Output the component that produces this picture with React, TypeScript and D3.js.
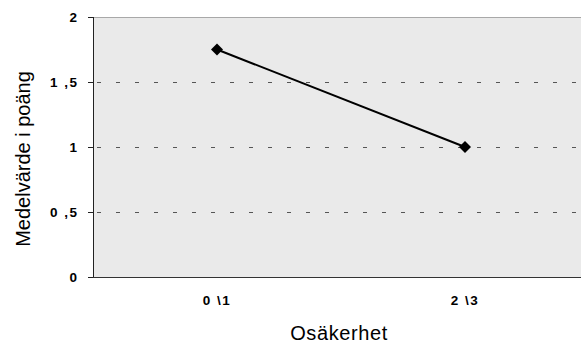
import React from "react";
import * as d3 from "d3";

const categories = ["0 \\1", "2 \\3"];
const values = [1.75, 1.0];
const yTicks = [0, 0.5, 1, 1.5, 2];
const yTickLabels = ["0", "0 ,5", "1", "1 ,5", "2"];

export default function App() {
  const W = 581, H = 347;
  const left = 93, right = 589, top = 17, bottom = 277;
  const x = d3.scaleBand<string>().domain(categories).range([left, right]);
  const y = d3.scaleLinear().domain([0, 2]).range([bottom, top]);
  const line = d3.line<number>()
    .x((_, i) => x(categories[i])! + x.bandwidth() / 2)
    .y((d) => y(d));
  const font = "'Liberation Sans', Arial, sans-serif";
  return (
    <svg width={W} height={H} style={{ position: "absolute", left: 0, top: 0 }}>
      <rect x={left} y={top} width={W - left} height={bottom - top} fill="#eaeaea" />
      <line x1={left} x2={W} y1={top + 0.5} y2={top + 0.5} stroke="#a8a8a8" />
      {yTicks.filter((t) => t > 0 && t < 2).map((t) => (
        <line key={t} x1={left + 4} x2={W} y1={Math.round(y(t)) + 0.5} y2={Math.round(y(t)) + 0.5}
          stroke="#555" strokeDasharray="4,15" />
      ))}
      <line x1={left + 0.5} x2={left + 0.5} y1={top} y2={bottom} stroke="#222" />
      <line x1={left} x2={W} y1={bottom + 0.5} y2={bottom + 0.5} stroke="#333" />
      {yTicks.map((t, i) => (
        <g key={t}>
          <line x1={left - 5} x2={left} y1={Math.round(y(t)) + 0.5} y2={Math.round(y(t)) + 0.5} stroke="#222" />
          <text x={78.5} y={y(t)} dy="0.36em" textAnchor="end" fontFamily={font} fontWeight="bold" fontSize={13.5} letterSpacing={1.5} fill="#000">
            {yTickLabels[i]}
          </text>
        </g>
      ))}
      {categories.map((c) => (
        <text key={c} x={x(c)! + x.bandwidth() / 2} y={305} textAnchor="middle" fontFamily={font} fontWeight="bold" fontSize={13.5} letterSpacing={1.5} fill="#000">
          {c}
        </text>
      ))}
      <path d={line(values)!} fill="none" stroke="#000" strokeWidth={2} />
      {values.map((v, i) => {
        const cx = x(categories[i])! + x.bandwidth() / 2;
        const cy = y(v);
        const s = 6;
        return <path key={i} d={`M${cx},${cy - s}L${cx + s},${cy}L${cx},${cy + s}L${cx - s},${cy}Z`} fill="#000" />;
      })}
      <text x={339} y={340} textAnchor="middle" fontFamily={font} fontSize={20} letterSpacing={0.6} fill="#000">Osäkerhet</text>
      <text transform={`translate(30,159) rotate(-90)`} textAnchor="middle" fontFamily={font} fontSize={20} fill="#000">
        Medelvärde i poäng
      </text>
    </svg>
  );
}
